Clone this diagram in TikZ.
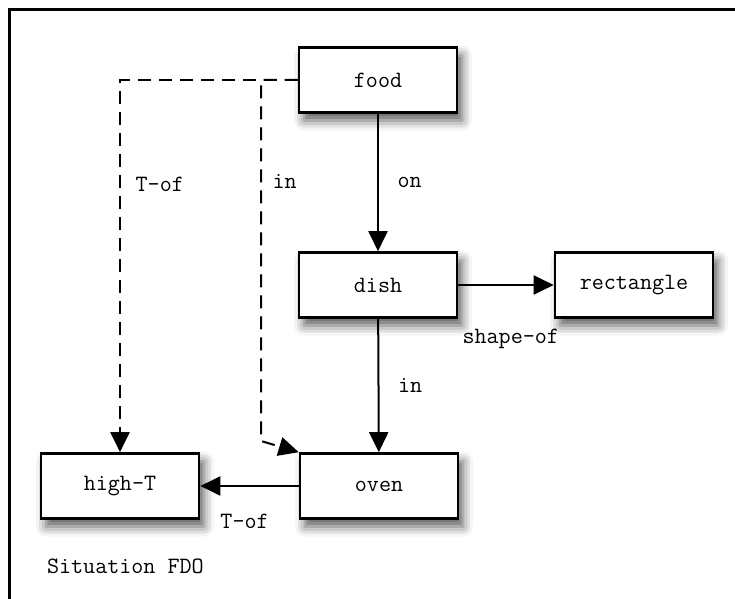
\documentclass[tikz,border=0pt]{standalone}
\usetikzlibrary{arrows.meta,shadows.blur}
\tikzstyle{concept} = [draw, line width=1.3pt, fill=white, minimum width=79pt, minimum height=32.5pt,
  blur shadow={shadow xshift=2.5pt, shadow yshift=-4pt, shadow blur radius=5pt, shadow opacity=65}]
\tikzstyle{rel} = [line width=1pt, -{Triangle[length=10pt,width=9.5pt]}]
\tikzstyle{implied} = [rel, dash pattern=on 6.5pt off 4pt]

\begin{document}
\begin{tikzpicture}[x=0.5pt, y=-0.5pt, every node/.style={font=\ttfamily\fontsize{11.7}{14}\selectfont}]
  \useasboundingbox (0,0) rectangle (735,599);
  % frame of the situation
  \draw [line width=1.5pt] (9,599) -- (9,10) -- (735,10);

  \node (food) at (378,80) [concept] {food};
  \node (dish) at (378,285) [concept] {dish};
  \node (rect) at (634,285) [concept] {rectangle};
  \node (oven) at (379,486) [concept] {oven};
  \node (ht) at (120,486) [concept] {high-T};
  \node (sit) at (40,566) [anchor=west] {Situation FDO};
  \coordinate (bend) at (261,441);

  \draw [rel] (food) to node [right=6pt] {on} (dish);
  \draw [rel] (dish) to node [right=6pt] {in} (oven);
  \draw [rel] (dish) to node [below=18pt, pos=0.55] {shape-of} (rect);
  \draw [rel] (oven) to node [below=10pt, pos=0.55] {T-of} (ht);
  \draw [implied] (food.west) -| node [right=4pt, pos=0.64] {T-of} (ht.north);
  \draw [implied] (food.west) -| node [right=2pt, pos=0.64] {in} (bend) -- (oven.north west);
\end{tikzpicture}
\end{document}
